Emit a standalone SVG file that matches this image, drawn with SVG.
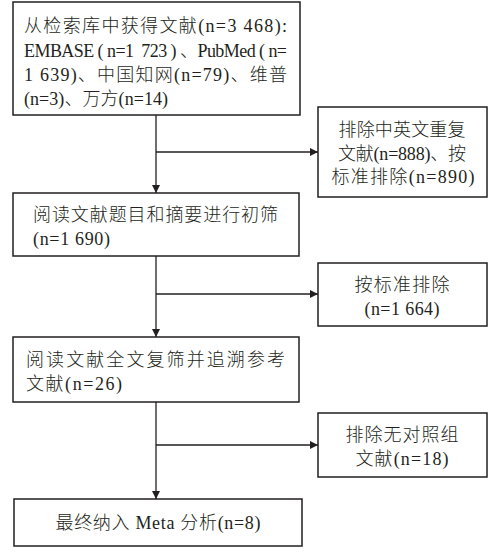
<svg xmlns="http://www.w3.org/2000/svg" width="503" height="554" viewBox="0 0 503 554">
<style>
.box{fill:#fff;stroke:#231f20;stroke-width:1.5}
.t{font-family:"Liberation Serif","Noto Sans CJK SC",serif;font-size:18px;font-weight:300;fill:#231f20}
.c{text-anchor:middle}
.ln{fill:none;stroke:#231f20;stroke-width:1.3}
</style>
<defs>
<marker id="ah" viewBox="0 0 10 10" refX="10" refY="5" markerWidth="9" markerHeight="8" markerUnits="userSpaceOnUse" orient="auto">
<path d="M0,0 L10,5 L0,10 z" fill="#231f20"/>
</marker>
</defs>
<rect width="503" height="554" fill="#fff"/>
<g id="connectors">
<path class="ln" d="M156,115 V193" marker-end="url(#ah)"/>
<path class="ln" d="M156,152 H318" marker-end="url(#ah)"/>
<path class="ln" d="M156,256 V337" marker-end="url(#ah)"/>
<path class="ln" d="M156,294 H318" marker-end="url(#ah)"/>
<path class="ln" d="M156,402 V499" marker-end="url(#ah)"/>
<path class="ln" d="M156,445 H318" marker-end="url(#ah)"/>
</g>
<g id="n1">
<rect class="box" x="13" y="2" width="287" height="113"/>
<text class="t" x="24" y="32" textLength="263" lengthAdjust="spacing">从检索库中获得文献(n=3 468):</text>
<text class="t" x="24" y="57" textLength="263" lengthAdjust="spacing">EMBASE ( n=1&#160;&#160;723 ) 、PubMed ( n=</text>
<text class="t" x="24" y="81" textLength="263" lengthAdjust="spacing">1 639)、中国知网(n=79)、维普</text>
<text class="t" x="24" y="105" textLength="144" lengthAdjust="spacing">(n=3)、万方(n=14)</text>
</g>
<g id="n2">
<rect class="box" x="318" y="107" width="169" height="90"/>
<text class="t c" x="402" y="136" textLength="127" lengthAdjust="spacing">排除中英文重复</text>
<text class="t c" x="402" y="160" textLength="128" lengthAdjust="spacing">文献(n=888)、按</text>
<text class="t c" x="403" y="183" textLength="143" lengthAdjust="spacing">标准排除(n=890)</text>
</g>
<g id="n3">
<rect class="box" x="13" y="193" width="286" height="63"/>
<text class="t" x="33" y="221" textLength="245" lengthAdjust="spacing">阅读文献题目和摘要进行初筛</text>
<text class="t" x="33" y="245" textLength="77" lengthAdjust="spacing">(n=1 690)</text>
</g>
<g id="n4">
<rect class="box" x="318" y="263" width="169" height="63"/>
<text class="t c" x="402" y="291" textLength="95" lengthAdjust="spacing">按标准排除</text>
<text class="t c" x="402" y="315" textLength="75" lengthAdjust="spacing">(n=1 664)</text>
</g>
<g id="n5">
<rect class="box" x="13" y="337" width="286" height="65"/>
<text class="t" x="26" y="366" textLength="259" lengthAdjust="spacing">阅读文献全文复筛并追溯参考</text>
<text class="t" x="26" y="390" textLength="96" lengthAdjust="spacing">文献(n=26)</text>
</g>
<g id="n6">
<rect class="box" x="318" y="413" width="169" height="64"/>
<text class="t c" x="402" y="441" textLength="113" lengthAdjust="spacing">排除无对照组</text>
<text class="t c" x="402" y="465" textLength="93" lengthAdjust="spacing">文献(n=18)</text>
</g>
<g id="n7">
<rect class="box" x="14" y="499" width="288" height="47"/>
<text class="t c" x="158" y="529" textLength="205" lengthAdjust="spacing">最终纳入 Meta 分析(n=8)</text>
</g>
</svg>
